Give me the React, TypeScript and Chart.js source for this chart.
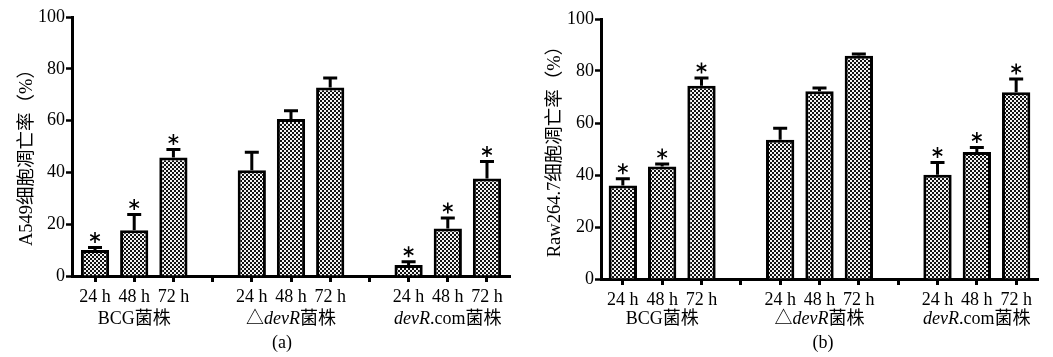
import React, { useEffect, useRef } from "react";
import { Chart, registerables } from "chart.js";
Chart.register(...registerables);

const categories = ["24 h", "48 h", "72 h", "", "24 h", "48 h", "72 h", "", "24 h", "48 h", "72 h"];
const groupCenters = [1, 5, 9];
const groupLabels: [string, boolean][][] = [
  [["BCG菌株", false]],
  [["△", false], ["devR", true], ["菌株", false]],
  [["devR", true], [".com菌株", false]],
];
const yTicks = [0, 20, 40, 60, 80, 100];

const valuesA = [10, 17.7, 45.8, null, 40.8, 60.6, 72.8, null, 4.2, 18.3, 37.6];
const errorsA = [1.0, 6.0, 3.0, null, 7.0, 3.2, 3.6, null, 1.3, 4.1, 6.6];
const starsA = [true, true, true, false, false, false, false, false, true, true, true];

const valuesB = [36, 43.3, 74.3, null, 53.6, 72.2, 85.9, null, 40.1, 48.8, 71.8];
const errorsB = [2.6, 0.9, 3.0, null, 4.4, 1.3, 0.6, null, 4.7, 1.8, 5.1];
const starsB = [true, true, true, false, false, false, false, false, true, true, true];

const titleA = "A549细胞凋亡率（%）";
const titleB = "Raw264.7细胞凋亡率（%）";

const FONT = '"Liberation Serif", "Noto Sans CJK SC", serif';

function makePattern(): CanvasPattern | string {
  const c = document.createElement("canvas");
  c.width = 4;
  c.height = 4;
  const g = c.getContext("2d");
  if (!g) return "#555";
  g.fillStyle = "#f2f2f2";
  g.fillRect(0, 0, 4, 4);
  g.fillStyle = "#111";
  g.fillRect(0, 0, 2, 2);
  g.fillRect(2, 2, 2, 2);
  const p = g.createPattern(c, "repeat");
  return p || "#555";
}

interface PanelProps {
  values: (number | null)[];
  errors: (number | null)[];
  stars: boolean[];
  title: string;
  caption: string;
  left: number;
  width: number;
  padTop: number;
  padRight: number;
  yWidth: number;
  xHeight: number;
  titleX: number;
  titleY: number;
  captionX: number;
  edge: number;
}

function Panel(props: PanelProps) {
  const ref = useRef<HTMLCanvasElement | null>(null);
  useEffect(() => {
    const canvas = ref.current;
    if (!canvas) return;
    const pattern = makePattern();
    const overlay = {
      id: "overlay",
      afterDatasetsDraw(chart: any) {
        const ctx = chart.ctx as CanvasRenderingContext2D;
        const meta = chart.getDatasetMeta(0);
        const ys = chart.scales.y;
        const xs = chart.scales.x;
        ctx.save();
        ctx.strokeStyle = "#000";
        ctx.lineWidth = 3;
        meta.data.forEach((bar: any, i: number) => {
          const v = props.values[i];
          const e = props.errors[i];
          if (v == null || e == null) return;
          const yTop = ys.getPixelForValue(v);
          const yErr = ys.getPixelForValue(v + e);
          const x = bar.x;
          ctx.lineWidth = 3;
          ctx.beginPath();
          ctx.moveTo(x, yTop);
          ctx.lineTo(x, yErr);
          ctx.moveTo(x - 7, yErr);
          ctx.lineTo(x + 7, yErr);
          ctx.stroke();
          if (props.stars[i]) {
            const cy = yErr - 10;
            const r = 5.5;
            ctx.lineWidth = 1.6;
            ctx.beginPath();
            for (let k = 0; k < 3; k++) {
              const a = Math.PI / 2 + (k * Math.PI) / 3;
              ctx.moveTo(x + r * Math.cos(a), cy + r * Math.sin(a));
              ctx.lineTo(x - r * Math.cos(a), cy - r * Math.sin(a));
            }
            ctx.stroke();
          }
        });
        // group labels
        ctx.fillStyle = "#000";
        ctx.textBaseline = "middle";
        ctx.textAlign = "left";
        groupLabels.forEach((parts, gi) => {
          const cx = xs.getPixelForValue(groupCenters[gi]);
          let total = 0;
          parts.forEach(([t, it]) => {
            ctx.font = (it ? "italic " : "") + "18px " + FONT;
            total += ctx.measureText(t).width;
          });
          let x = cx - total / 2;
          parts.forEach(([t, it]) => {
            ctx.font = (it ? "italic " : "") + "18px " + FONT;
            ctx.fillText(t, x, 319);
            x += ctx.measureText(t).width;
          });
        });
        // caption
        ctx.font = "18px " + FONT;
        ctx.textAlign = "center";
        ctx.fillText(props.caption, props.captionX, 343);
        // y title
        ctx.translate(props.titleX, props.titleY);
        ctx.rotate(-Math.PI / 2);
        ctx.font = "18.5px " + FONT;
        ctx.textAlign = "center";
        ctx.textBaseline = "middle";
        ctx.fillText(props.title, 0, 0);
        ctx.restore();
      },
    };
    const chart = new Chart(canvas, {
      type: "bar",
      data: {
        labels: categories,
        datasets: [
          {
            data: props.values as any,
            backgroundColor: pattern as any,
            borderColor: "#000",
            borderWidth: 3,
            borderSkipped: "bottom",
            barPercentage: 0.72,
            categoryPercentage: 1,
          },
        ],
      },
      options: {
        animation: false,
        responsive: false,
        maintainAspectRatio: false,
        events: [],
        layout: { padding: { top: props.padTop, right: props.padRight, left: 0, bottom: 0 } },
        plugins: { legend: { display: false }, tooltip: { enabled: false }, title: { display: false } },
        scales: {
          x: {
            offset: true,
            border: { display: true, color: "#000", width: 3 },
            grid: {
              offset: false,
              drawOnChartArea: false,
              drawTicks: true,
              tickLength: 6,
              tickWidth: 3,
              tickColor: "#000",
              color: "#000",
            },
            ticks: {
              autoSkip: false,
              maxRotation: 0,
              color: "#000",
              padding: 4,
              font: { family: FONT, size: 18 },
            },
            afterBuildTicks: (s: any) => {
              s._startValue = -props.edge;
              s._valueRange = categories.length - 1 + 2 * props.edge;
            },
            afterFit: (s: any) => {
              s.height = props.xHeight;
            },
          },
          y: {
            min: 0,
            max: 100,
            afterBuildTicks: (s: any) => {
              s.ticks = yTicks.map((v) => ({ value: v }));
            },
            border: { display: true, color: "#000", width: 3 },
            grid: {
              drawOnChartArea: false,
              drawTicks: true,
              tickLength: 6,
              tickWidth: 2.5,
              tickColor: "#000",
              color: "#000",
            },
            ticks: {
              color: "#000",
              padding: 1,
              font: { family: FONT, size: 18 },
            },
            afterFit: (s: any) => {
              s.width = props.yWidth;
            },
          },
        },
      },
      plugins: [overlay],
    });
    return () => chart.destroy();
  }, []);
  return (
    <canvas
      ref={ref}
      width={props.width}
      height={357}
      style={{ position: "absolute", left: props.left, top: 0, width: props.width, height: 357 }}
    />
  );
}

export default function App() {
  return (
    <div style={{ position: "absolute", left: 0, top: 0, width: 1053, height: 357, background: "#fff" }}>
      <Panel
        values={valuesA}
        errors={errorsA}
        stars={starsA}
        title={titleA}
        caption="(a)"
        left={0}
        width={520}
        padTop={17}
        padRight={10}
        yWidth={72}
        xHeight={81}
        titleX={27}
        titleY={153}
        captionX={282}
        edge={0.587}
      />
      <Panel
        values={valuesB}
        errors={errorsB}
        stars={starsB}
        title={titleB}
        caption="(b)"
        left={520}
        width={533}
        padTop={19}
        padRight={15}
        yWidth={81}
        xHeight={78}
        titleX={35}
        titleY={147}
        captionX={303}
        edge={0.555}
      />
    </div>
  );
}
